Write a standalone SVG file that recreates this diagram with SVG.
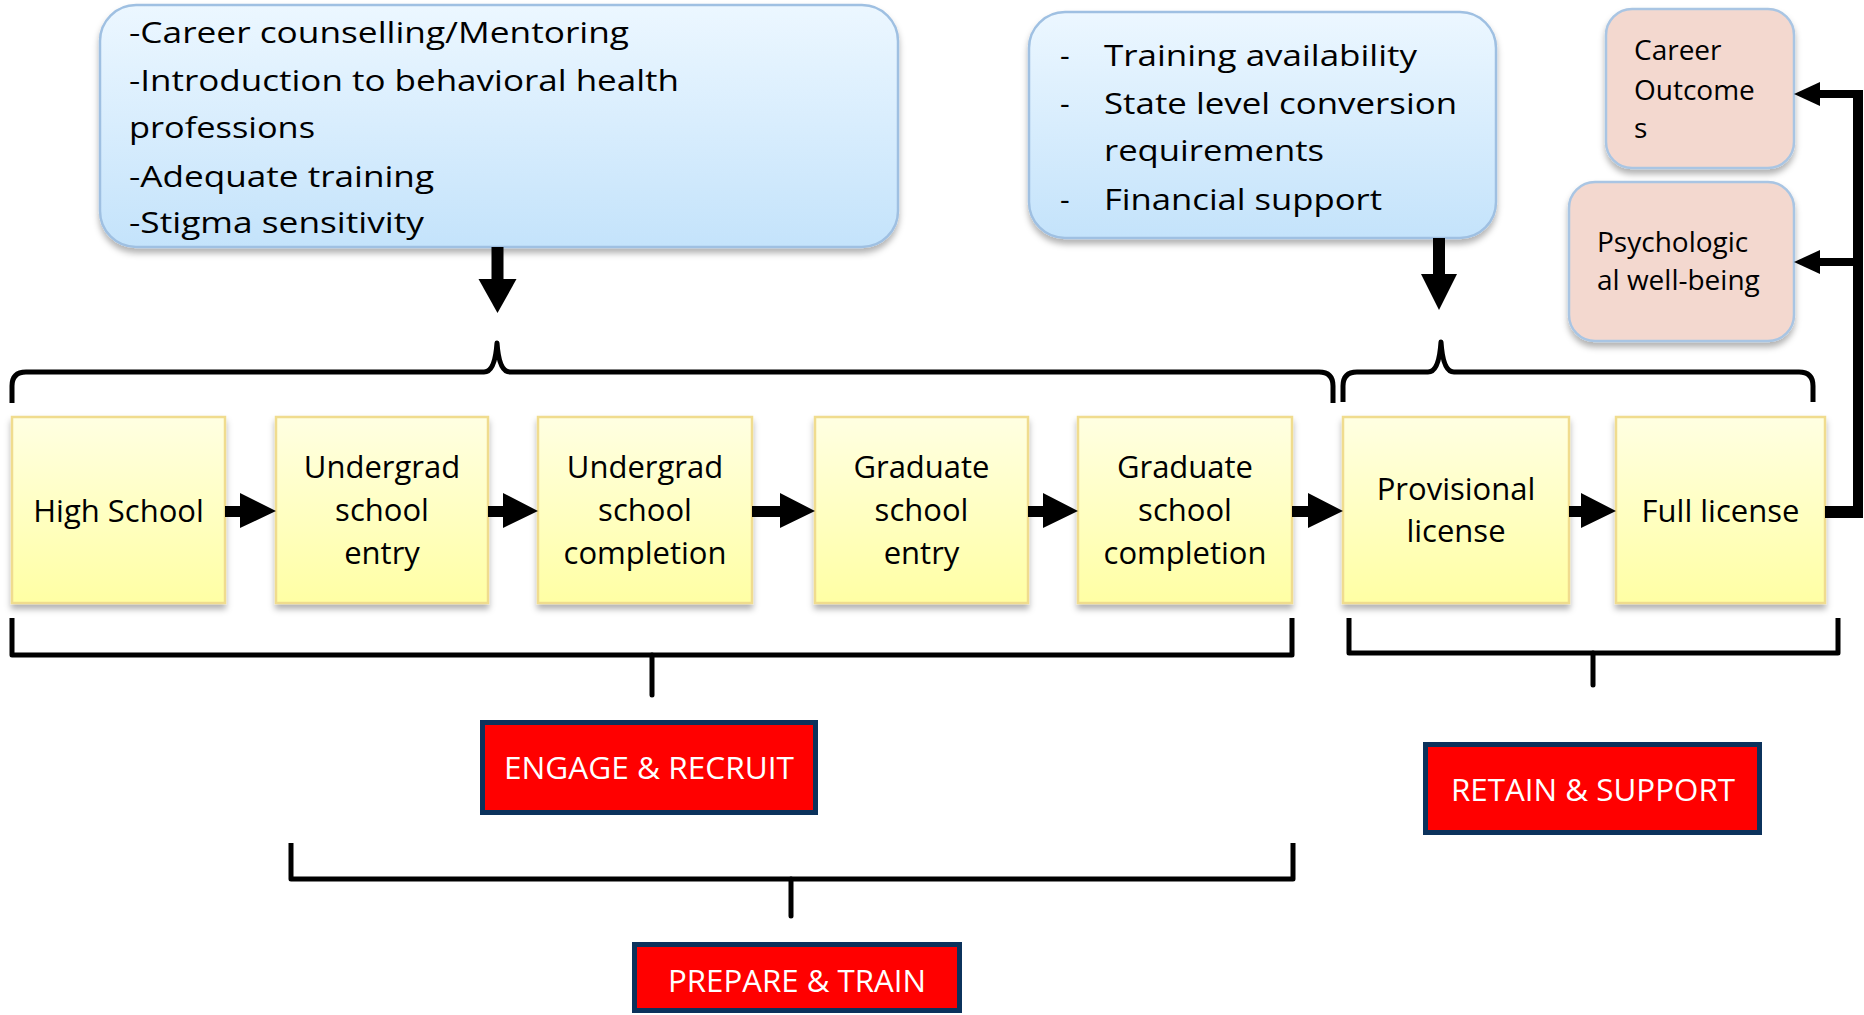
<svg xmlns="http://www.w3.org/2000/svg" width="1864" height="1015" viewBox="0 0 1864 1015">
<style>
text{font-family:"Open Sans","Noto Sans","Liberation Sans",sans-serif;fill:#000;}
.t{font-size:30px;}
.n{font-size:31px;text-anchor:middle;}
.lbl{font-size:31px;fill:#fff;text-anchor:middle;}
.blue{fill:url(#gBlue);stroke:#9fc0e2;stroke-width:2.5;filter:url(#sh);}
.pink{fill:#f3d8cf;stroke:#a9c5e3;stroke-width:2.5;filter:url(#sh);}
.yel{fill:url(#gYel);stroke:#f0dc8e;stroke-width:2.5;filter:url(#sh);}
.red{fill:#ff0000;stroke:#0b325c;stroke-width:5;}
.br{fill:none;stroke:#000;stroke-width:5;stroke-linejoin:round;}
.ln{fill:none;stroke:#000;}
</style>
<defs>
<linearGradient id="gBlue" x1="0" y1="0" x2="0" y2="1">
<stop offset="0" stop-color="#ecf7ff"/>
<stop offset="1" stop-color="#c4e3fb"/>
</linearGradient>
<linearGradient id="gYel" x1="0" y1="0" x2="0" y2="1">
<stop offset="0" stop-color="#ffffe2"/>
<stop offset="1" stop-color="#ffffa4"/>
</linearGradient>
<filter id="sh" x="-10%" y="-10%" width="120%" height="130%">
<feDropShadow dx="0" dy="5" stdDeviation="3" flood-color="#000" flood-opacity="0.3"/>
</filter>
</defs>

<g id="factors-left">
<rect class="blue" x="100" y="5" width="798" height="242" rx="36"/>
<text class="t" x="129" y="43" textLength="500" lengthAdjust="spacingAndGlyphs">-Career counselling/Mentoring</text>
<text class="t" x="129" y="91" textLength="550" lengthAdjust="spacingAndGlyphs">-Introduction to behavioral health</text>
<text class="t" x="129" y="138" textLength="186" lengthAdjust="spacingAndGlyphs">professions</text>
<text class="t" x="129" y="187" textLength="305" lengthAdjust="spacingAndGlyphs">-Adequate training</text>
<text class="t" x="129" y="233" textLength="295" lengthAdjust="spacingAndGlyphs">-Stigma sensitivity</text>
</g>

<g id="factors-right">
<rect class="blue" x="1029" y="12" width="467" height="226" rx="36"/>
<text class="t" x="1060" y="66">-</text>
<text class="t" x="1104" y="66" textLength="313" lengthAdjust="spacingAndGlyphs">Training availability</text>
<text class="t" x="1060" y="114">-</text>
<text class="t" x="1104" y="114" textLength="353" lengthAdjust="spacingAndGlyphs">State level conversion</text>
<text class="t" x="1104" y="161" textLength="220" lengthAdjust="spacingAndGlyphs">requirements</text>
<text class="t" x="1060" y="210">-</text>
<text class="t" x="1104" y="210" textLength="278" lengthAdjust="spacingAndGlyphs">Financial support</text>
</g>

<g id="career-outcomes">
<rect class="pink" x="1606" y="9" width="188" height="159" rx="26"/>
<text x="1634" y="60" style="font-size:28px">Career</text>
<text x="1634" y="100" style="font-size:28px">Outcome</text>
<text x="1634" y="138" style="font-size:28px">s</text>
</g>

<g id="psych-wellbeing">
<rect class="pink" x="1569" y="182" width="225" height="159" rx="26"/>
<text x="1597" y="252" style="font-size:28px">Psychologic</text>
<text x="1597" y="290" style="font-size:28px">al well-being</text>
</g>

<g id="high-school">
<rect class="yel" x="12" y="417" width="213" height="186"/>
<text class="n" x="118.5" y="522">High School</text>
</g>
<g id="undergrad-entry">
<rect class="yel" x="276" y="417" width="212" height="186"/>
<text class="n" x="382" y="478">Undergrad</text>
<text class="n" x="382" y="521">school</text>
<text class="n" x="382" y="564">entry</text>
</g>
<g id="undergrad-completion">
<rect class="yel" x="538" y="417" width="214" height="186"/>
<text class="n" x="645" y="478">Undergrad</text>
<text class="n" x="645" y="521">school</text>
<text class="n" x="645" y="564">completion</text>
</g>
<g id="graduate-entry">
<rect class="yel" x="815" y="417" width="213" height="186"/>
<text class="n" x="921.5" y="478">Graduate</text>
<text class="n" x="921.5" y="521">school</text>
<text class="n" x="921.5" y="564">entry</text>
</g>
<g id="graduate-completion">
<rect class="yel" x="1078" y="417" width="214" height="186"/>
<text class="n" x="1185" y="478">Graduate</text>
<text class="n" x="1185" y="521">school</text>
<text class="n" x="1185" y="564">completion</text>
</g>
<g id="provisional-license">
<rect class="yel" x="1343" y="417" width="226" height="186"/>
<text class="n" x="1456" y="500">Provisional</text>
<text class="n" x="1456" y="542">license</text>
</g>
<g id="full-license">
<rect class="yel" x="1616" y="417" width="209" height="186"/>
<text class="n" x="1720.5" y="522">Full license</text>
</g>

<g id="engage-recruit">
<rect class="red" x="482.5" y="722.5" width="333" height="90"/>
<text class="lbl" x="649" y="779" textLength="290" lengthAdjust="spacingAndGlyphs">ENGAGE &amp; RECRUIT</text>
</g>
<g id="retain-support">
<rect class="red" x="1425.5" y="744.5" width="334" height="88"/>
<text class="lbl" x="1593" y="801" textLength="284" lengthAdjust="spacingAndGlyphs">RETAIN &amp; SUPPORT</text>
</g>
<g id="prepare-train">
<rect class="red" x="634.5" y="944.5" width="325" height="66"/>
<text class="lbl" x="797" y="992" textLength="258" lengthAdjust="spacingAndGlyphs">PREPARE &amp; TRAIN</text>
</g>

<g id="connectors">
<rect x="491.5" y="247" width="12" height="34"/>
<polygon points="478.5,279 516.5,279 497.5,313"/>
<rect x="1433" y="238" width="12" height="38"/>
<polygon points="1421,274 1457,274 1439,310"/>
<path class="br" d="M12 403 L12 386 Q12 372 26 372 L484 372 Q495 372 497 343 Q499 372 510 372 L1319 372 Q1333 372 1333 386 L1333 403"/>
<path class="br" d="M1343 402 L1343 386 Q1343 372 1357 372 L1428 372 Q1439 372 1441 342 Q1443 372 1454 372 L1799 372 Q1813 372 1813 386 L1813 402"/>
<polygon points="225,506 240,506 240,493 276,511 240,528 240,517 225,517"/>
<polygon points="488,506 503,506 503,493 538,511 503,528 503,517 488,517"/>
<polygon points="752,506 780,506 780,493 815,511 780,528 780,517 752,517"/>
<polygon points="1028,506 1043,506 1043,493 1078,511 1043,528 1043,517 1028,517"/>
<polygon points="1292,506 1308,506 1308,493 1343,511 1308,528 1308,517 1292,517"/>
<polygon points="1569,506 1581,506 1581,493 1616,511 1581,528 1581,517 1569,517"/>
<path class="ln" d="M1825 512 L1862 512" stroke-width="12"/>
<path class="ln" d="M1858 90 L1858 518" stroke-width="10"/>
<path class="ln" d="M1862 94 L1815 94" stroke-width="8"/>
<polygon points="1794,94 1820,82 1820,106"/>
<path class="ln" d="M1858 262 L1815 262" stroke-width="8"/>
<polygon points="1794,262 1820,250 1820,274"/>
<path class="br" d="M12 618 L12 655 L1292 655 L1292 618"/>
<path class="ln" d="M652 655 L652 695" stroke-width="5" stroke-linecap="round"/>
<path class="br" d="M1349 618 L1349 653 L1838 653 L1838 618"/>
<path class="ln" d="M1593 653 L1593 685" stroke-width="5" stroke-linecap="round"/>
<path class="br" d="M291 843 L291 879 L1293 879 L1293 843"/>
<path class="ln" d="M791 879 L791 916" stroke-width="5" stroke-linecap="round"/>
</g>
</svg>
